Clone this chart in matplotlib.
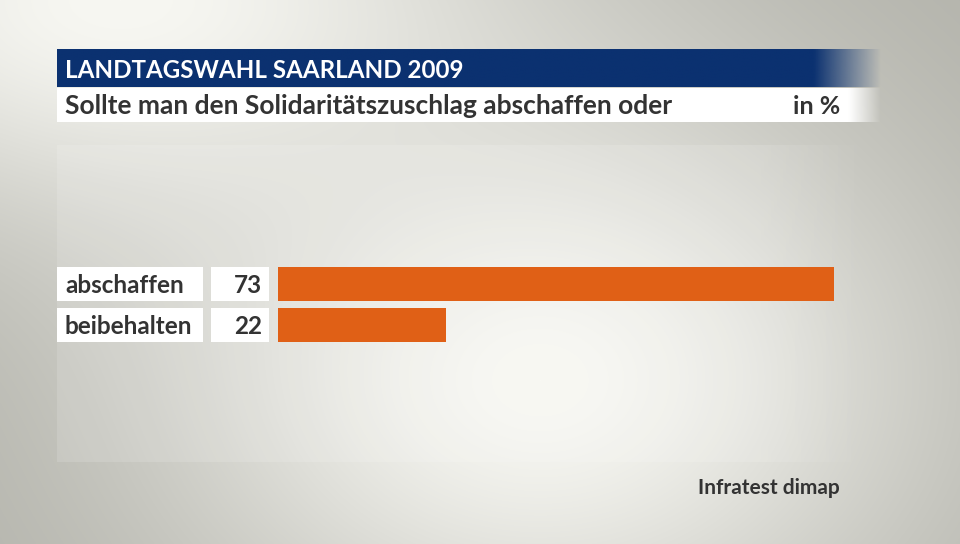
import numpy as np
import matplotlib.pyplot as plt
from matplotlib.colors import to_rgb

plt.rcParams['font.family'] = ['Lato', 'DejaVu Sans']

# data
categories = ['abschaffen', 'beibehalten']
values = [73, 22]
title = 'LANDTAGSWAHL SAARLAND 2009'
subtitle = 'Sollte man den Solidaritätszuschlag abschaffen oder'
unit = 'in %'
source = 'Infratest dimap'

W, H = 960, 544
navy = '#0b3170'
orange = '#e06016'
textcol = '#333333'

fig = plt.figure(figsize=(W / 100, H / 100), dpi=100)
bg = fig.add_axes([0, 0, 1, 1])
bg.set_xlim(0, W)
bg.set_ylim(H, 0)
bg.axis('off')

# background: two soft light blobs on grey
yy, xx = np.mgrid[0:H, 0:W].astype(float)
g1 = np.exp(-((xx - 540) / 400.0) ** 2 - ((yy - 380) / 300.0) ** 2)
g2 = np.exp(-((xx - 120) / 420.0) ** 2 - (yy / 230.0) ** 2)
f = 1 - (1 - g1) * (1 - g2)
light = np.array(to_rgb('#f7f7f2'))
dark = np.array(to_rgb('#b0b0a8'))
img = dark[None, None, :] + (light - dark)[None, None, :] * f[..., None]
bg.imshow(img, extent=[0, W, H, 0], aspect='auto', zorder=0)


def fade_box(x0, x1, fade0, y0, y1, color, alpha=1.0, z=2):
    n = 400
    xs = np.linspace(x0, x1, n)
    a = np.clip((x1 - xs) / (x1 - fade0), 0, 1) * alpha
    rgba = np.zeros((1, n, 4))
    rgba[..., :3] = to_rgb(color)
    rgba[0, :, 3] = a
    bg.imshow(rgba, extent=[x0, x1, y1, y0], aspect='auto', zorder=z, interpolation='bilinear')


# faint lighter panel
fade_box(57, 870, 760, 145, 462, 'white', alpha=0.14, z=1)

# title bar and subtitle box
fade_box(57, 882, 815, 49, 87, navy)
fade_box(57, 882, 850, 88, 122, 'white')
bg.text(65, 70, title, color='white', fontsize=17.4, fontweight='bold', va='center', ha='left', zorder=3)
bg.text(65, 106, subtitle, color=textcol, fontsize=19, fontweight='bold', va='center', ha='left', zorder=3)
bg.text(840, 106, unit, color=textcol, fontsize=18, fontweight='bold', va='center', ha='right', zorder=3)

# bars
top, step = 263, 41
ax = fig.add_axes([278 / W, 1 - (top + step * len(categories)) / H, 762 / W, step * len(categories) / H])
ax.barh(range(len(categories)), values, height=34 / step, color=orange, left=0)
ax.set_xlim(0, 100)
ax.set_ylim(len(categories) - 0.5, -0.5)
ax.axis('off')
ax.patch.set_alpha(0)

for i, (cat, val) in enumerate(zip(categories, values)):
    yc = top + step * (i + 0.5)
    bg.add_patch(plt.Rectangle((57, yc - 17), 146, 34, color='white', lw=0, zorder=3))
    bg.add_patch(plt.Rectangle((211, yc - 17), 58, 34, color='white', lw=0, zorder=3))
    bg.text(65, yc + 2, cat, color=textcol, fontsize=17.5, fontweight='bold', va='center', ha='left', zorder=4)
    bg.text(262, yc + 2, str(val), color=textcol, fontsize=17.5, fontweight='bold', va='center', ha='right', zorder=4)

bg.text(840, 488, source, color=textcol, fontsize=15, fontweight='bold', va='center', ha='right', zorder=3)

fig.savefig('out.png', dpi=100)
